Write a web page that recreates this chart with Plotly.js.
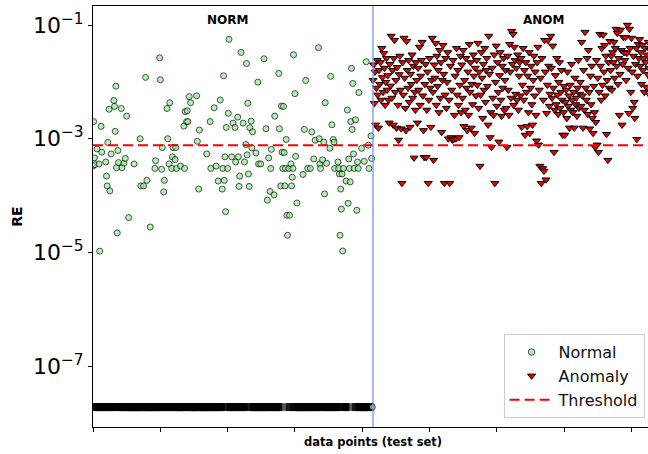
<!DOCTYPE html>
<html><head><meta charset="utf-8">
<script src="https://cdn.plot.ly/plotly-3.0.1.min.js"></script>
<style>html,body{margin:0;padding:0;overflow:hidden;background:#fff}#chart{width:660px;height:454px}</style>
</head><body><div id="chart"></div>
<script>
// RE of the many normal points that sit on the floor of the plot
const Z = 1.9e-8;
// Normal test points (index order)
const normalRE = [
3.3e-4,2.0e-3,4.6e-4,3.5e-4,Z,Z,6.6e-4,Z,Z,3.6e-4,
1.05e-5,Z,1.65e-3,5.8e-4,Z,Z,Z,Z,Z,3.9e-4,
2.2e-4,1.48e-4,8.6e-4,Z,3.3e-3,1.21e-4,Z,5.4e-4,Z,Z,
Z,4.7e-3,3.7e-3,1.35e-3,8.4e-3,3.1e-4,2.2e-5,6.2e-4,3.8e-4,Z,
Z,Z,3.4e-3,3.1e-4,Z,Z,3.7e-4,Z,4.5e-4,Z,
2.5e-3,Z,Z,4.1e-5,Z,Z,Z,Z,Z,Z,
Z,3.6e-4,Z,Z,Z,Z,Z,Z,Z,Z,
1.0e-3,1.48e-4,Z,Z,Z,1.48e-4,Z,Z,1.2e-2,Z,
1.85e-4,Z,Z,Z,Z,2.8e-5,Z,Z,Z,Z,
Z,Z,3.0e-4,4.1e-4,Z,Z,Z,Z,Z,2.65e-2,
1.09e-2,Z,2.9e-4,7.0e-4,Z,1.16e-4,1.85e-4,Z,Z,Z,
3.4e-3,1.0e-3,Z,3.6e-4,4.3e-3,Z,Z,3.0e-4,4.8e-4,7.0e-4,
Z,Z,4.3e-4,7.0e-4,3.0e-4,Z,Z,Z,Z,Z,
3.3e-4,Z,Z,Z,Z,1.67e-3,3.0e-4,3.0e-3,Z,2.0e-3,
3.1e-3,2.0e-3,Z,5.5e-3,Z,4.3e-3,Z,Z,Z,Z,
Z,Z,Z,Z,5.7e-3,9.0e-4,Z,1.3e-4,1.42e-3,Z,
Z,Z,Z,Z,Z,Z,Z,Z,Z,5.4e-4,
Z,Z,Z,Z,2.0e-3,3.0e-4,Z,Z,Z,Z,
3.5e-3,Z,Z,3.3e-4,Z,Z,1.8e-4,Z,Z,4.8e-3,
Z,Z,1.3e-4,3.0e-4,1.28e-2,1.85e-4,4.8e-4,5.2e-5,1.58e-3,Z,
3.0e-4,2.8e-3,5.6e-2,Z,Z,Z,4.8e-4,Z,1.88e-3,Z,
Z,1.58e-3,3.9e-4,Z,Z,2.4e-3,4.8e-4,1.45e-4,2.2e-4,Z,
3.3e-2,Z,Z,1.88e-3,Z,3.9e-4,Z,7.9e-4,2.1e-2,5.2e-4,
4.2e-3,2.4e-4,1.45e-4,1.56e-3,Z,2.04e-3,6.9e-4,1.32e-3,Z,Z,
Z,Z,5.6e-4,Z,Z,9.9e-3,3.6e-4,Z,Z,3.6e-4,
Z,Z,Z,Z,2.55e-2,Z,Z,1.5e-3,Z,8.3e-5,
Z,4.6e-4,Z,1.18e-4,3.0e-4,6.5e-4,Z,Z,Z,1.03e-4,
2.5e-3,Z,Z,Z,Z,Z,1.41e-2,1.5e-3,Z,1.48e-4,
3.75e-3,5.8e-4,3.0e-4,3.7e-3,5.7e-4,1.48e-4,3.0e-4,9.7e-4,4.5e-5,2.0e-5,
Z,3.0e-4,4.5e-5,Z,3.6e-4,1.48e-4,2.1e-4,3.0e-4,3.0e-2,Z,
6.2e-3,4.9e-4,Z,7.4e-5,Z,Z,Z,Z,Z,Z,
Z,Z,2.35e-4,Z,1.46e-3,Z,1.06e-2,Z,Z,3.0e-4,
Z,Z,Z,3.0e-4,Z,1.32e-3,Z,Z,4.4e-4,Z,
9.4e-4,Z,Z,Z,Z,4.0e-2,1.0e-3,3.6e-4,3.0e-4,Z,
Z,4.25e-4,Z,8.7e-4,1.07e-4,4.3e-3,Z,3.7e-4,Z,Z,
Z,Z,6.8e-4,1.25e-2,Z,1.76e-3,Z,9.7e-4,8.7e-4,3.0e-4,
Z,Z,Z,Z,3.9e-4,3.0e-4,2.4e-4,2.0e-5,1.3e-4,5.8e-5,
2.4e-4,1.06e-5,3.0e-4,Z,Z,Z,1.8e-4,Z,3.2e-3,7.3e-5,
4.4e-4,3.0e-4,1.74e-4,2.0e-3,1.73e-2,1.46e-3,9.4e-3,5.4e-4,3.0e-4,Z,
2.15e-3,Z,5.5e-5,3.9e-4,3.0e-4,6.5e-3,Z,Z,Z,6.8e-4,
Z,Z,Z,4.0e-4,Z,Z,2.26e-2,Z,Z,7.7e-4,
3.0e-4,Z,Z,1.12e-3,4.5e-4,Z
];
// Anomalous test points (index order, following the normal ones)
const anomalyRE = [
1.07e-2,2.0e-2,4.2e-3,1.5e-2,1.75e-3,7.8e-3,2.4e-2,5.9e-3,1.55e-3,1.6e-2,9.1e-3,2.2e-2,4.8e-3,3.9e-2,1.2e-2,6.6e-3,3.2e-2,1.75e-2,3.9e-3,9.9e-3,2.6e-2,7.2e-3,
1.3e-2,4.8e-3,1.9e-3,2.05e-2,8.5e-3,6.4e-2,5.2e-3,1.6e-2,1.75e-3,2.6e-2,5.4e-2,6.6e-3,1.07e-2,1.55e-3,1.8e-2,3.9e-3,9.5e-4,1.35e-2,2.85e-2,7.2e-3,1.5e-3,1.65e-4,
2.2e-2,5.9e-3,5.9e-2,1.17e-2,3.45e-3,1.4e-3,5.2e-2,1.6e-2,7.8e-3,2.4e-2,4.4e-3,1.6e-3,1.37e-2,9.1e-3,3.0e-2,5.2e-3,1.9e-2,4.6e-4,6.6e-3,3.2e-3,2.2e-2,1.07e-2,
1.9e-3,1.75e-2,7.2e-3,4.1e-2,3.9e-3,1.27e-2,2.4e-2,5.0e-2,5.7e-3,1.4e-3,4.7e-4,9.1e-3,2.05e-2,4.7e-4,3.2e-3,1.5e-2,1.65e-4,4.8e-3,2.6e-2,7.8e-3,1.6e-3,1.07e-2,
5.9e-2,6.6e-3,4.2e-4,2.0e-2,1.17e-2,4.8e-2,3.9e-3,2.85e-2,8.4e-3,1.6e-2,2.9e-3,3.6e-2,5.2e-3,2.2e-2,1.3e-3,1.07e-2,4.4e-2,1.37e-2,1.65e-4,5.9e-3,2.6e-2,3.45e-3,
9.9e-3,3.3e-2,1.0e-3,4.8e-3,1.65e-4,1.9e-2,1.05e-3,7.2e-3,9.5e-4,2.4e-2,9.8e-4,2.6e-3,1.27e-2,1.0e-3,3.9e-2,5.9e-3,1.6e-2,3.9e-3,1.05e-3,8.8e-3,2.85e-2,2.9e-3,
2.0e-2,5.2e-3,3.6e-2,1.65e-3,1.07e-2,3.2e-3,2.6e-2,7.8e-3,1.4e-3,1.5e-2,2.6e-3,4.6e-2,6.6e-3,2.2e-2,1.55e-3,9.1e-3,4.0e-3,3.0e-2,1.27e-2,1.25e-3,1.75e-2,5.7e-3,
2.4e-2,8.8e-3,4.8e-2,3.45e-3,1.5e-2,3.3e-4,5.9e-3,3.3e-2,1.17e-2,2.3e-3,2.05e-2,7.2e-3,3.9e-2,4.4e-3,1.6e-2,2.6e-2,8.4e-3,1.75e-3,6.4e-2,1.37e-2,1.05e-3,2.9e-3,
7.1e-4,1.75e-2,5.2e-3,2.6e-3,3.0e-2,1.65e-4,9.9e-3,4.3e-2,3.75e-3,2.2e-2,6.6e-3,8.8e-4,1.3e-2,3.3e-2,4.8e-3,2.5e-3,1.9e-2,7.8e-3,2.6e-2,3.2e-3,1.07e-2,1.6e-2,
3.45e-3,7.1e-4,2.85e-2,7.2e-3,2.6e-3,4.6e-2,1.5e-2,5.2e-3,7.8e-2,2.05e-2,6.9e-2,3.9e-3,4.1e-2,2.4e-2,6.1e-3,1.75e-2,4.8e-3,3.0e-2,3.2e-3,1.27e-2,2.2e-2,5.7e-3,
2.6e-2,1.6e-3,8.8e-3,3.9e-2,4.8e-3,1.6e-2,1.16e-3,2.2e-2,6.6e-3,1.65e-3,1.27e-2,2.9e-3,3.3e-2,1.25e-3,7.8e-3,1.9e-2,4.0e-3,1.75e-3,1.07e-2,2.85e-2,5.7e-3,1.5e-2,
2.6e-3,9.2e-4,2.2e-2,4.1e-2,7.8e-4,7.2e-3,3.3e-4,1.17e-2,1.65e-4,2.6e-2,3.0e-4,4.8e-3,2.7e-4,5.4e-2,1.5e-2,1.9e-4,2.8e-3,8.8e-3,5.4e-2,1.9e-2,3.75e-3,6.1e-3,
6.4e-2,1.75e-2,5.2e-3,4.3e-2,7.8e-3,5.8e-4,3.2e-3,1.3e-2,4.0e-3,2.6e-2,5.9e-3,2.7e-3,9.9e-3,2.2e-2,3.45e-3,6.6e-3,1.6e-2,4.8e-3,1.16e-3,2.9e-3,8.4e-3,1.16e-3,
4.4e-3,7.2e-3,2.3e-3,1.5e-2,3.75e-3,5.7e-3,1.55e-3,8.8e-3,3.2e-3,2.05e-2,4.8e-3,2.9e-3,6.6e-3,1.55e-3,1.17e-2,4.0e-3,5.2e-3,2.5e-3,7.8e-3,2.4e-2,3.45e-3,6.1e-3,
9.9e-3,3.75e-3,5.0e-2,5.7e-3,1.55e-3,1.6e-2,3.2e-3,7.5e-2,7.8e-3,4.8e-3,2.6e-2,2.7e-3,3.6e-2,6.6e-3,1.5e-3,1.27e-2,4.0e-3,1.9e-2,2.3e-3,1.25e-3,8.4e-3,2.9e-3,
7.1e-4,1.95e-3,2.4e-2,7.8e-4,1.17e-2,5.8e-4,6.6e-3,6.9e-2,1.9e-2,4.8e-3,3.9e-2,8.8e-3,6.7e-2,1.5e-2,4.4e-2,5.7e-3,2.85e-2,1.2e-3,1.07e-2,4.2e-4,2.2e-2,7.8e-3,
5.2e-2,1.6e-2,2.85e-2,7.2e-3,3.3e-2,2.2e-2,5.0e-2,1.17e-2,3.9e-2,8.5e-2,1.9e-2,7.2e-2,9.1e-3,2.6e-2,2.6e-3,1.37e-2,8.2e-2,3.6e-2,1.75e-3,2.05e-2,6.1e-2,3.3e-2,
2.4e-2,6.1e-2,1.07e-2,3.2e-2,1.0e-1,1.75e-2,2.8e-3,8.5e-2,3.9e-2,6.6e-3,5.9e-2,1.5e-2,3.45e-3,2.85e-2,4.4e-3,2.3e-3,2.05e-2,3.9e-2,9.8e-4,1.27e-2,4.6e-2,2.6e-2,
5.6e-2,1.9e-2,3.3e-2,9.1e-3,4.4e-2,1.6e-2,2.6e-2,6.6e-3,3.9e-2,2.2e-2,8.1e-3,3.0e-2,1.37e-2,5.0e-2,1.75e-2,5.9e-3,3.6e-2,2.4e-2,1.07e-2,4.3e-2
];
const threshold = 7.7e-4;
const yTickVals = [1e-7, 1e-5, 1e-3, 1e-1];
const yTickText = ['10<sup>\u22127</sup>', '10<sup>\u22125</sup>', '10<sup>\u22123</sup>', '10<sup>\u22121</sup>'];
const xTickVals = [0, 100, 200, 300, 400, 500, 600, 700, 800];
const regionLabels = ['NORM', 'ANOM'];
const regionLabelX = [200, 670];
const regionLabelY = 0.122;
const seriesNames = ['Normal', 'Anomaly', 'Threshold'];

const nN = normalRE.length, nA = anomalyRE.length, nT = nN + nA;
const normalX = normalRE.map((_, i) => i);
const anomalyX = anomalyRE.map((_, i) => nN + i);
const F = 'DejaVu Sans, sans-serif';
// the floor points overlap so densely that they merge into a solid black strip; the last one stays visible
const lastIdx = nN - 1;
const isFloor = normalRE.map((v, i) => v === Z && i !== lastIdx);
const normalFill = isFloor.map(f => f ? '#000000' : '#90ee90');
const normalSymbol = isFloor.map(f => f ? 'square' : 'circle');
const normalSize = isFloor.map(f => f ? 7 : 6);

const traces = [
  {type: 'scatter', mode: 'markers', name: seriesNames[0], x: normalX, y: normalRE,
   marker: {symbol: normalSymbol, size: normalSize, color: normalFill, line: {color: '#000', width: 1}}},
  {type: 'scatter', mode: 'markers', name: seriesNames[1], x: anomalyX, y: anomalyRE,
   marker: {symbol: 'triangle-down', size: 7, color: '#ee0000', line: {color: '#000', width: 1}}},
  {type: 'scatter', mode: 'lines', name: seriesNames[2], x: [0, nT], y: [threshold, threshold],
   line: {color: '#ff0000', width: 2, dash: '10px,5px'}}
];

const layout = {
  width: 660, height: 454,
  margin: {l: 93, r: 7, t: 6, b: 27},
  paper_bgcolor: '#fff', plot_bgcolor: '#fff',
  font: {family: F, color: '#000'},
  showlegend: true,
  legend: {x: 0.985, xanchor: 'right', y: 0.021, yanchor: 'bottom', itemwidth: 44,
           bgcolor: 'rgba(255,255,255,0.85)', bordercolor: '#cccccc', borderwidth: 1,
           font: {family: F, size: 16, color: '#111'}},
  xaxis: {range: [0, nT], tickvals: xTickVals, showticklabels: false, ticks: 'outside', ticklen: 4,
          tickcolor: '#000', showline: true, linecolor: '#000', linewidth: 1, mirror: true,
          showgrid: false, zeroline: false, automargin: false,
          title: {text: '<b>data points (test set)</b>', font: {family: F, size: 11.5, color: '#000'}, standoff: 6}},
  yaxis: {type: 'log', range: [-8.072, -0.665], tickvals: yTickVals, ticktext: yTickText,
          ticks: 'outside', ticklen: 4, tickcolor: '#000', tickfont: {family: F, size: 22, color: '#000'},
          showline: true, linecolor: '#000', linewidth: 1, mirror: true, showgrid: false, zeroline: false,
          automargin: false,
          title: {text: '<b>RE</b>', font: {family: F, size: 14, color: '#000'}, standoff: 6}},
  shapes: [{type: 'line', xref: 'x', yref: 'paper', x0: nN, x1: nN, y0: 0, y1: 1, layer: 'above',
            line: {color: '#7a93f2', width: 1.3}}],
  annotations: regionLabels.map((t, i) => ({text: '<b>' + t + '</b>', x: regionLabelX[i], y: Math.log10(regionLabelY),
            xref: 'x', yref: 'y', showarrow: false, font: {family: F, size: 12, color: '#000'}}))
};

Plotly.newPlot('chart', traces, layout, {displayModeBar: false, staticPlot: true});
</script>
</body></html>
